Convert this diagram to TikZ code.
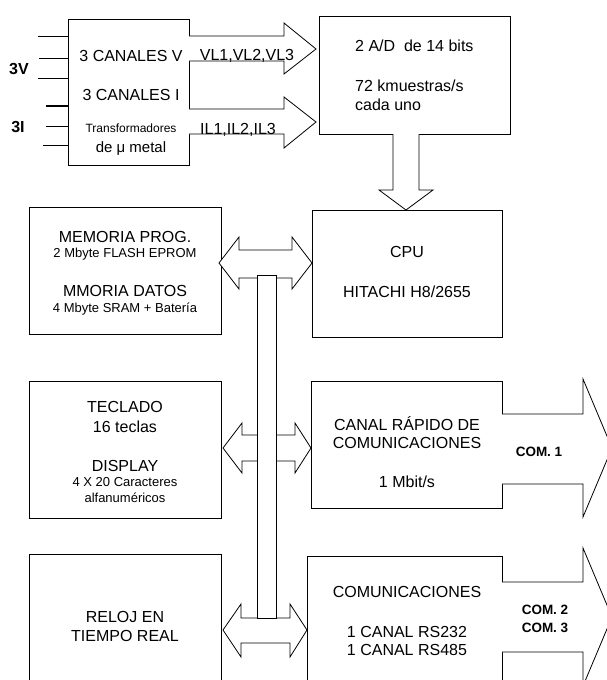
\documentclass[tikz,border=0pt]{standalone}
\usepackage{fontspec}
\setmainfont{Liberation Sans}
\begin{document}
\begin{tikzpicture}[x=1pt,y=-1pt,
  box/.style={draw, line width=0.8pt, fill=white, inner sep=0pt},
  blk/.style={draw, line width=0.8pt, fill=white, line join=miter},
  wire/.style={draw, line width=0.8pt},
  tA/.style={inner sep=0pt, anchor=base, font=\fontsize{16}{19}\selectfont},
  tB/.style={inner sep=0pt, anchor=base, font=\fontsize{13}{15}\selectfont},
  tC/.style={inner sep=0pt, anchor=base, font=\fontsize{12}{14}\selectfont},
  tD/.style={inner sep=0pt, anchor=base, font=\fontsize{16}{19}\selectfont\bfseries},
  tE/.style={inner sep=0pt, anchor=base, font=\fontsize{13.5}{16}\selectfont\bfseries}]
\useasboundingbox (0,0) rectangle (607,680);
\clip (0,0) rectangle (607,680);
% boxes
\node[box, minimum width=121pt, minimum height=146pt] (tr) at (128.5,92) {};
\node[box, minimum width=191pt, minimum height=118pt] (ad) at (414.5,75) {};
\node[box, minimum width=192pt, minimum height=127pt] (mem) at (125,270.5) {};
\node[box, minimum width=190pt, minimum height=127pt] (cpu) at (407,273.5) {};
\node[box, minimum width=192pt, minimum height=137pt] (tec) at (125,449.5) {};
\node[box, minimum width=191pt, minimum height=127pt] (can) at (406.5,444.5) {};
\node[box, minimum width=192pt, minimum height=146pt] (rel) at (125,627) {};
\node[box, minimum width=195pt, minimum height=144pt] (com) at (404.5,628) {};
% input wires
\coordinate (v1) at (38,36);
\coordinate (v2) at (39,58);
\coordinate (v3) at (38,78);
\coordinate (i1) at (46,106);
\coordinate (i2) at (46,126);
\coordinate (i3) at (43,145);
\draw[wire] (v1) -- (v1 -| tr.west);
\draw[wire] (v2) -- (v2 -| tr.west);
\draw[wire] (v3) -- (v3 -| tr.west);
\draw[wire, line width=1.4pt] (i1) -- (i1 -| tr.west);
\draw[wire] (i2) -- (i2 -| tr.west);
\draw[wire] (i3) -- (i3 -| tr.west);
% arrows transformer -> A/D
\path[blk] (189,36) -- (284,36) -- (284,23) -- (316,49) -- (284,74) -- (284,61) -- (189,61);
\path[blk] (189,109) -- (284,109) -- (284,97) -- (316,122) -- (284,148) -- (284,134) -- (189,134);
% A/D -> CPU
\path[blk] (393,134) -- (393,190) -- (379,190) -- (406,210) -- (433,190) -- (419,190) -- (419,134);
% double arrows
\path[blk] (219,263) -- (239,237) -- (239,250) -- (292,250) -- (292,237) -- (312,263) -- (292,289) -- (292,278) -- (239,278) -- (239,289) -- cycle;
\path[blk] (223,448) -- (242,423) -- (242,435) -- (295,435) -- (295,423) -- (311,448) -- (295,473) -- (295,461) -- (242,461) -- (242,473) -- cycle;
\path[blk] (223,630) -- (241,604) -- (241,618) -- (290,618) -- (290,604) -- (307,630) -- (290,657) -- (290,643) -- (241,643) -- (241,657) -- cycle;
% bus
\path[blk] (257,275) rectangle (276,618);
% output arrows
\path[blk] (502,414) -- (583,414) -- (583,379) -- (612,448) -- (583,517) -- (583,484) -- (502,484);
\path[blk] (502,582) -- (583,582) -- (583,548) -- (612,617) -- (583,686) -- (583,652) -- (502,652);
% texts
\node[tD] (l3v) at (19,74) {3V};
\node[tD] (l3i) at (18,132) {3I};
\node[tA] (cv) at (131,61.5) {3 CANALES V};
\node[tA] (ci) at (131,100) {3 CANALES I};
\node[tC] (tf) at (131,132.5) {Transformadores};
\node[tA, font=\fontsize{15}{18}\selectfont] (mu) at (131,152) {de μ metal};
\node[tA] (vl) at (247,60.5) {VL1,VL2,VL3};
\node[tA] (il) at (238,134.5) {IL1,IL2,IL3};
\node[tA, anchor=base west] (ad1) at (355,51) {2 A/D\ \ de 14 bits};
\node[tA, anchor=base west] (ad2) at (355,91) {72 kmuestras/s};
\node[tA, anchor=base west] (ad3) at (355,110) {cada uno};
\node[tA] (m1) at (125,242) {MEMORIA PROG.};
\node[tB] (m2) at (125,257) {2 Mbyte FLASH EPROM};
\node[tA] (m3) at (125,296) {MMORIA DATOS};
\node[tB] (m4) at (125,312) {4 Mbyte SRAM + Batería};
\node[tA] (c1) at (407,257) {CPU};
\node[tA] (c2) at (407,297) {HITACHI H8/2655};
\node[tA] (k1) at (125,412) {TECLADO};
\node[tA] (k2) at (125,432) {16 teclas};
\node[tA] (k3) at (125,471) {DISPLAY};
\node[tB] (k4) at (125,486) {4 X 20 Caracteres};
\node[tB] (k5) at (125,502) {alfanuméricos};
\node[tA] (r1) at (125,622) {RELOJ EN};
\node[tA] (r2) at (125,641) {TIEMPO REAL};
\node[tA] (q1) at (407,430) {CANAL RÁPIDO DE};
\node[tA] (q2) at (407,448) {COMUNICACIONES};
\node[tA] (q3) at (407,487) {1 Mbit/s};
\node[tE] (o1) at (539,456) {COM. 1};
\node[tA] (s1) at (407,597) {COMUNICACIONES};
\node[tA] (s2) at (407,637) {1 CANAL RS232};
\node[tA] (s3) at (407,655) {1 CANAL RS485};
\node[tE] (o2) at (545,614) {COM. 2};
\node[tE] (o3) at (545,632) {COM. 3};
\end{tikzpicture}
\end{document}
